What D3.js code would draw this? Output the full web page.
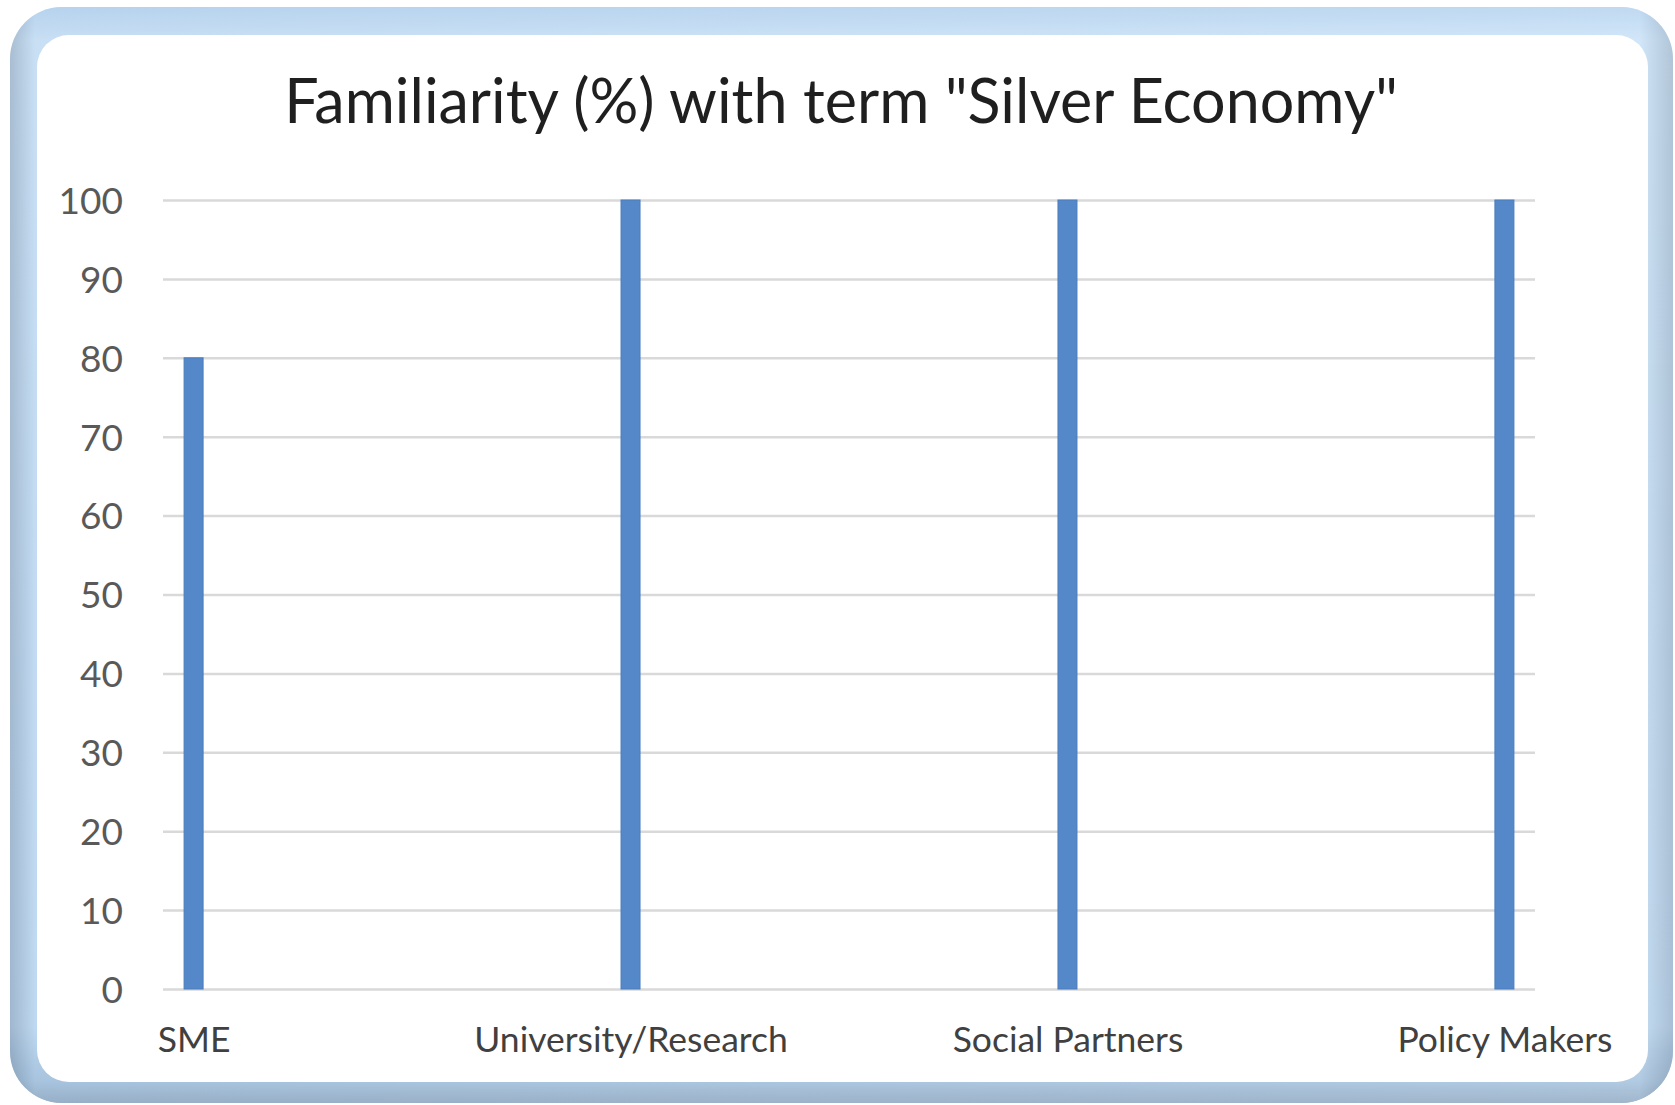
<!DOCTYPE html>
<html>
<head>
<meta charset="utf-8">
<script src="https://cdn.jsdelivr.net/npm/d3@7"></script>
<style>
  html, body { margin: 0; padding: 0; background: #fff; }
  svg { display: block; }
  text { font-family: Lato, "Open Sans", sans-serif; }
</style>
</head>
<body>
<svg id="chart" width="1675" height="1105"></svg>
<script>
// data
const categories = ['SME', 'University/Research', 'Social Partners', 'Policy Makers']
const values = [80, 100, 100, 100]
const yTicks = [0, 10, 20, 30, 40, 50, 60, 70, 80, 90, 100]
const title = 'Familiarity (%) with term "Silver Economy"'

const plot = { left: 163, right: 1535, top: 200, bottom: 989 }

const svg = d3.select('#chart')
const defs = svg.append('defs')

// bevelled frame
const gH = defs.append('linearGradient').attr('id', 'bevelH')
  .attr('x1', 0).attr('y1', 0).attr('x2', 0).attr('y2', 1)
gH.append('stop').attr('offset', '0%').attr('stop-color', '#b4d0ec')
gH.append('stop').attr('offset', '3%').attr('stop-color', '#dbecfb')
gH.append('stop').attr('offset', '93%').attr('stop-color', '#c6def4')
gH.append('stop').attr('offset', '98%').attr('stop-color', '#93afca')
gH.append('stop').attr('offset', '100%').attr('stop-color', '#6f8196')

const gV = defs.append('linearGradient').attr('id', 'bevelV')
  .attr('x1', 0).attr('y1', 0).attr('x2', 1).attr('y2', 0)
gV.append('stop').attr('offset', '0%').attr('stop-color', '#7f97b0')
gV.append('stop').attr('offset', '1.5%').attr('stop-color', '#b8d4ee')
gV.append('stop').attr('offset', '98%').attr('stop-color', '#c9e1f6')
gV.append('stop').attr('offset', '100%').attr('stop-color', '#8fa5bb')

svg.append('rect')
  .attr('x', 10).attr('y', 7).attr('width', 1663).attr('height', 1096)
  .attr('rx', 52).attr('fill', 'url(#bevelH)')
svg.append('rect')
  .attr('x', 10).attr('y', 7).attr('width', 1663).attr('height', 1096)
  .attr('rx', 52).attr('fill', 'url(#bevelV)').attr('opacity', 0.55)
svg.append('rect')
  .attr('x', 37).attr('y', 35).attr('width', 1611).attr('height', 1047)
  .attr('rx', 32).attr('fill', '#ffffff')

// title
svg.append('text')
  .attr('x', 841).attr('y', 123)
  .attr('text-anchor', 'middle')
  .attr('font-size', 61)
  .attr('fill', '#1f1f1f')
  .text(title)

const x = d3.scalePoint()
  .domain(categories)
  .range([plot.left, plot.right])
  .padding(0.07)

const y = d3.scaleLinear()
  .domain([0, 100])
  .range([plot.bottom, plot.top])

// gridlines
svg.append('g')
  .attr('transform', `translate(${plot.left},0)`)
  .call(d3.axisLeft(y).tickValues(yTicks).tickSize(-(plot.right - plot.left)).tickFormat(''))
  .call(g => g.select('.domain').remove())
  .call(g => g.selectAll('.tick line').attr('stroke', '#d9d9d9').attr('stroke-width', 2.5))

// y labels
svg.append('g')
  .attr('transform', 'translate(123,0)')
  .call(d3.axisLeft(y).tickValues(yTicks).tickSize(0).tickPadding(0))
  .call(g => g.select('.domain').remove())
  .call(g => g.selectAll('.tick text')
    .attr('font-family', 'Lato, sans-serif')
    .attr('font-size', 37)
    .attr('fill', '#595959')
    .attr('dy', '0.36em'))

// bars
const barW = 19
svg.append('g')
  .selectAll('rect')
  .data(values)
  .join('rect')
  .attr('x', (d, i) => x(categories[i]) - barW / 2)
  .attr('y', d => y(d))
  .attr('width', barW)
  .attr('height', d => y(0) - y(d))
  .attr('fill', '#5588c8')
  .attr('stroke', '#4a7dbd')
  .attr('stroke-width', 1)

// x labels
svg.append('g')
  .attr('transform', `translate(0,${plot.bottom})`)
  .call(d3.axisBottom(x).tickSize(0).tickPadding(0))
  .call(g => g.select('.domain').remove())
  .call(g => g.selectAll('.tick text')
    .attr('font-family', 'Lato, sans-serif')
    .attr('font-size', 35.5)
    .attr('fill', '#404040')
    .attr('dy', 0)
    .attr('y', 63))
</script>
</body>
</html>
